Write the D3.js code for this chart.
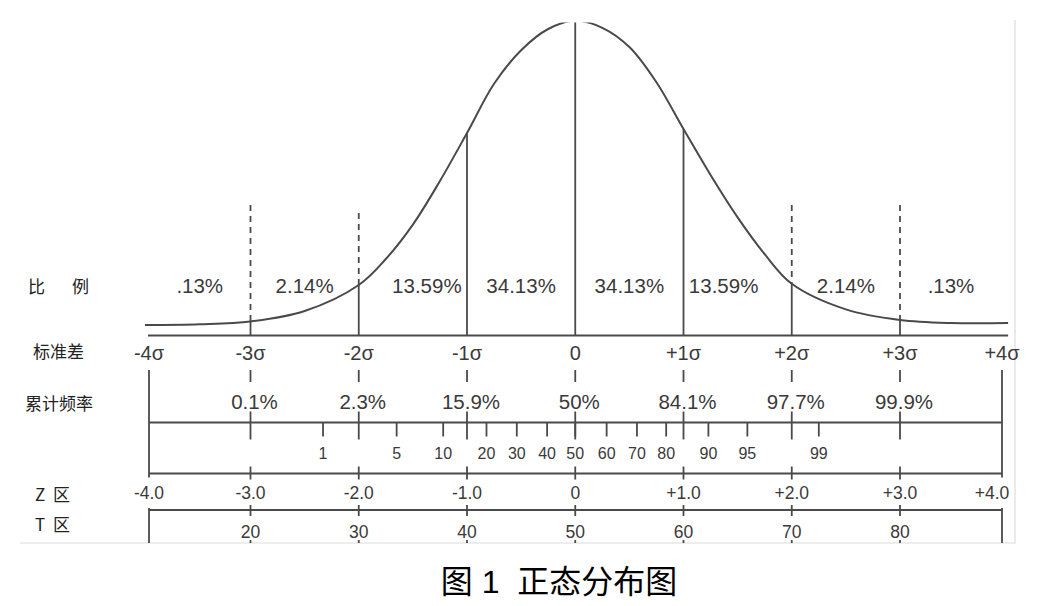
<!DOCTYPE html>
<html>
<head>
<meta charset="utf-8">
<script src="https://cdn.jsdelivr.net/npm/d3@7/dist/d3.min.js"></script>
<style>
  body { margin: 0; background: #fff; }
  svg { display: block; font-family: 'Liberation Sans', Arial, 'Noto Sans CJK SC', sans-serif; }
  .cjk { font-family: 'Noto Sans CJK SC', sans-serif; }
</style>
</head>
<body>
<svg></svg>
<script>
(function() {

  // bell curve (sigma -> height in density units)
  const curveSigma = [-4.04, -3.5, -3, -2.5, -2, -1.75, -1.5, -1.25, -1, -0.75, -0.5, -0.25, 0,
                      0.25, 0.5, 0.75, 1, 1.25, 1.5, 1.75, 2, 2.5, 3, 3.5, 4.06]
  const curveDensity = [0.0025, 0.0034, 0.0069, 0.020, 0.0525, 0.085, 0.128, 0.1825, 0.2425, 0.304, 0.346, 0.3725, 0.383,
                        0.374, 0.35, 0.306, 0.2475, 0.19, 0.137, 0.091, 0.054, 0.022, 0.0088, 0.005, 0.005]

  const sigmaTicks = [-4, -3, -2, -1, 0, 1, 2, 3, 4]
  const sigmaLabels = ['-4σ', '-3σ', '-2σ', '-1σ', '0', '+1σ', '+2σ', '+3σ', '+4σ']
  const areaShares = ['.13%', '2.14%', '13.59%', '34.13%', '34.13%', '13.59%', '2.14%', '.13%']

  const solidGuides = [-3, -2, -1, 0, 1, 2, 3]
  const dashedGuides = [-3, -2, 2, 3]
  const dashedGuideTops = [0.1525, 0.1425, 0.1525, 0.1525]

  const innerSigma = [-3, -2, -1, 0, 1, 2, 3]
  const cumulativeLabels = ['0.1%', '2.3%', '15.9%', '50%', '84.1%', '97.7%', '99.9%']

  const percentileTicks = [1, 5, 10, 20, 30, 40, 50, 60, 70, 80, 90, 95, 99]
  const percentileSigma = [-2.33, -1.65, -1.22, -0.82, -0.54, -0.26, 0, 0.29, 0.57, 0.84, 1.23, 1.59, 2.25]

  const zLabels = ['-4.0', '-3.0', '-2.0', '-1.0', '0', '+1.0', '+2.0', '+3.0', '+4.0']
  const tScores = [20, 30, 40, 50, 60, 70, 80]

  const rowLabels = ['比 例', '标准差', '累计频率', 'Z 区', 'T 区']
  const title = '图 1  正态分布图'

  const svgWidth = 1041
  const svgHeight = 606

  const lineColor = '#4a4a4a'
  const textColor = '#3a3a3a'

  // layout of the rows
  const sigmaAxisY = 335.5
  const tableTop = 370
  const pctAxisY = 422.5
  const zAxisY = 473.5
  const tAxisY = 510
  const frameBottom = 543
  const rowLabelY = [285, 350, 402, 493, 523]
  const rowPartX = [[28, 72], [33], [25], [35, 53], [35, 53]]

  const x = d3.scaleLinear()
      .domain([-4, -3, 3, 4])
      .range([149, 250.5, 900, 1002])

  const y = d3.scaleLinear()
      .domain([0, 0.4])
      .range([327, 7])

  const curvePoints = curveSigma.map((s, i) => ({s: s, d: curveDensity[i]}))
  const heightAt = s => curveDensity[curveSigma.indexOf(s)]

  const svg = d3.select('svg')
      .attr('width', svgWidth)
      .attr('height', svgHeight)

  svg.append('rect')
      .attr('width', svgWidth)
      .attr('height', svgHeight)
      .attr('fill', '#fff')

  // faint frame of the embedded picture
  svg.append('path')
      .attr('d', `M20,${frameBottom}H1015V20`)
      .attr('fill', 'none')
      .attr('stroke', '#dcdcdc')
      .attr('stroke-width', 1.2)

  svg.append('clipPath')
      .attr('id', 'topClip')
      .append('rect')
      .attr('x', 0)
      .attr('y', 22.5)
      .attr('width', svgWidth)
      .attr('height', svgHeight)

  const plot = svg.append('g')
      .attr('clip-path', 'url(#topClip)')

  const line = d3.line()
      .x(d => x(d.s))
      .y(d => y(d.d))
      .curve(d3.curveCatmullRom.alpha(0.5))

  plot.append('path')
      .datum(curvePoints)
      .attr('d', line)
      .attr('fill', 'none')
      .attr('stroke', lineColor)
      .attr('stroke-width', 2)

  plot.selectAll('.guide')
      .data(solidGuides)
      .enter()
      .append('line')
      .classed('guide', true)
      .attr('x1', d => x(d))
      .attr('x2', d => x(d))
      .attr('y1', sigmaAxisY)
      .attr('y2', d => y(heightAt(d)))
      .attr('stroke', lineColor)
      .attr('stroke-width', 1.8)

  plot.selectAll('.dashed')
      .data(dashedGuides)
      .enter()
      .append('line')
      .classed('dashed', true)
      .attr('x1', d => x(d))
      .attr('x2', d => x(d))
      .attr('y1', (d, i) => y(dashedGuideTops[i]))
      .attr('y2', d => y(heightAt(d)))
      .attr('stroke', lineColor)
      .attr('stroke-width', 1.8)
      .attr('stroke-dasharray', '6,5')

  // share of each band
  svg.selectAll('.share')
      .data(areaShares)
      .enter()
      .append('text')
      .classed('share', true)
      .attr('x', (d, i) => {
        const mid = sigmaTicks[i] + 0.5
        const nudge = Math.abs(mid) === 1.5 ? (mid < 0 ? 14 : -14) : 0
        return x(mid) + nudge
      })
      .attr('y', 293)
      .attr('text-anchor', 'middle')
      .attr('font-size', 20.5)
      .attr('fill', textColor)
      .text(d => d)

  // sigma axis
  svg.append('line')
      .attr('x1', x(-4.01))
      .attr('x2', x(4.06))
      .attr('y1', sigmaAxisY)
      .attr('y2', sigmaAxisY)
      .attr('stroke', lineColor)
      .attr('stroke-width', 2)

  svg.selectAll('.sigmaLabel')
      .data(sigmaLabels)
      .enter()
      .append('text')
      .classed('sigmaLabel', true)
      .attr('x', (d, i) => x(sigmaTicks[i]))
      .attr('y', 360)
      .attr('text-anchor', 'middle')
      .attr('font-size', 20)
      .attr('fill', textColor)
      .text(d => d)

  // table frame: outer uprights and horizontal scales
  const table = svg.append('g')
      .attr('stroke', lineColor)
      .attr('stroke-width', 1.8)

  for (let end of [-4, 4]) {
    table.append('line')
        .attr('x1', x(end)).attr('x2', x(end))
        .attr('y1', tableTop).attr('y2', zAxisY + 4)
    table.append('line')
        .attr('x1', x(end)).attr('x2', x(end))
        .attr('y1', tAxisY - 2).attr('y2', frameBottom)
  }

  for (let rowY of [pctAxisY, zAxisY, tAxisY]) {
    table.append('line')
        .attr('x1', x(-4)).attr('x2', x(4))
        .attr('y1', rowY).attr('y2', rowY)
  }

  const tickRows = [[tableTop, 382], [pctAxisY - 11, pctAxisY + 17], [zAxisY - 7, zAxisY + 6], [tAxisY - 5, tAxisY + 6], [frameBottom - 3, frameBottom]]
  for (let [y1, y2] of tickRows) {
    table.selectAll(null)
        .data(innerSigma)
        .enter()
        .append('line')
        .attr('x1', d => x(d)).attr('x2', d => x(d))
        .attr('y1', y1).attr('y2', y2)
  }

  table.selectAll('.minor')
      .data(percentileSigma)
      .enter()
      .append('line')
      .classed('minor', true)
      .attr('x1', d => x(d)).attr('x2', d => x(d))
      .attr('y1', pctAxisY).attr('y2', pctAxisY + 14)

  svg.selectAll('.cumulative')
      .data(cumulativeLabels)
      .enter()
      .append('text')
      .classed('cumulative', true)
      .attr('x', (d, i) => x(innerSigma[i]) + 4)
      .attr('y', 409)
      .attr('text-anchor', 'middle')
      .attr('font-size', 20.5)
      .attr('fill', textColor)
      .text(d => d)

  svg.selectAll('.percentile')
      .data(percentileTicks)
      .enter()
      .append('text')
      .classed('percentile', true)
      .attr('x', (d, i) => x(percentileSigma[i]))
      .attr('y', 458.5)
      .attr('text-anchor', 'middle')
      .attr('font-size', 16)
      .attr('fill', textColor)
      .text(d => d)

  svg.selectAll('.zLabel')
      .data(zLabels)
      .enter()
      .append('text')
      .classed('zLabel', true)
      .attr('x', (d, i) => x(sigmaTicks[i]) + (i === 8 ? -10 : 0))
      .attr('y', 499)
      .attr('text-anchor', 'middle')
      .attr('font-size', 17.5)
      .attr('fill', textColor)
      .text(d => d)

  svg.selectAll('.tScore')
      .data(tScores)
      .enter()
      .append('text')
      .classed('tScore', true)
      .attr('x', (d, i) => x(innerSigma[i]))
      .attr('y', 538)
      .attr('text-anchor', 'middle')
      .attr('font-size', 17.5)
      .attr('fill', textColor)
      .text(d => d)

  // row captions on the left
  rowLabels.forEach((label, i) => {
    label.split(' ').forEach((part, j) => {
      svg.append('text')
          .classed('cjk', true)
          .attr('x', rowPartX[i][j])
          .attr('y', rowLabelY[i])
          .attr('dominant-baseline', 'central')
          .attr('font-size', 17)
          .attr('fill', '#222')
          .text(part)
    })
  })

  svg.append('text')
      .attr('x', 559)
      .attr('y', 593)
      .attr('text-anchor', 'middle')
      .attr('font-size', 32)
      .attr('fill', '#000')
      .style('white-space', 'pre')
      .text(title)

})()
</script>
</body>
</html>
